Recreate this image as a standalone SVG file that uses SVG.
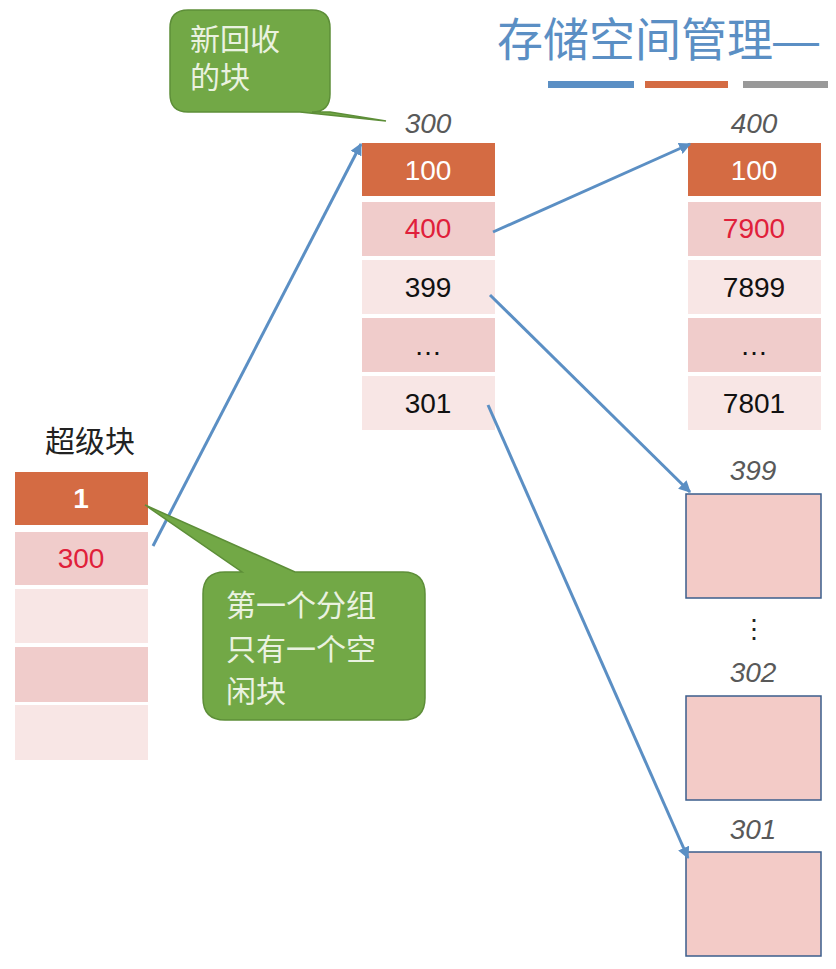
<svg xmlns="http://www.w3.org/2000/svg" width="836" height="969" viewBox="0 0 836 969">
<defs>
<marker id="ah" viewBox="0 0 10 10" refX="9" refY="5" markerWidth="4" markerHeight="4" orient="auto"><path d="M0,0L10,5L0,10z" fill="#5b8fc4"/></marker>
<style>
.t{font-family:"Liberation Sans","Noto Sans CJK SC",sans-serif;}
.n{font-size:28px;text-anchor:middle;}
.lab{font-size:28px;font-style:italic;fill:#595959;text-anchor:middle;}
.h{fill:#d46b43;}
.a{fill:#f0cccb;}
.b{fill:#f8e6e5;}
.box{fill:#f3cbc7;stroke:#3b5e8c;stroke-width:1.5;}
.cw{font-size:30px;fill:#eaf2e0;}
.con line{stroke:#5b8fc4;stroke-width:3;marker-end:url(#ah);}
</style>
</defs>
<rect width="836" height="969" fill="#fff"/>
<g id="title">
<text class="t" x="497" y="56" font-size="46" fill="#5b8fc4">存储空间管理—</text>
<rect x="548" y="81" width="86" height="7" fill="#5b8fc4"/>
<rect x="645" y="81" width="83" height="7" fill="#d46b43"/>
<rect x="743" y="81" width="85" height="7" fill="#999"/>
</g>
<g id="superblock" class="t">
<text x="90" y="452" font-size="30" text-anchor="middle" fill="#222">超级块</text>
<rect class="h" x="15" y="472" width="133" height="53"/>
<text class="n" x="81" y="508" fill="#fff" font-weight="bold">1</text>
<rect class="a" x="15" y="532" width="133" height="53"/>
<text class="n" x="81" y="568" fill="#e0203a">300</text>
<rect class="b" x="15" y="589" width="133" height="54"/>
<rect class="a" x="15" y="647" width="133" height="55"/>
<rect class="b" x="15" y="705" width="133" height="55"/>
</g>
<g id="block300" class="t">
<text class="lab" x="428" y="133">300</text>
<rect class="h" x="362" y="143" width="133" height="53"/>
<text class="n" x="428" y="180" fill="#fff">100</text>
<rect class="a" x="362" y="202" width="133" height="54"/>
<text class="n" x="428" y="238" fill="#e0203a">400</text>
<rect class="b" x="362" y="260" width="133" height="54"/>
<text class="n" x="428" y="297" fill="#111">399</text>
<rect class="a" x="362" y="318" width="133" height="54"/>
<text class="n" x="428" y="355" fill="#111">…</text>
<rect class="b" x="362" y="376" width="133" height="54"/>
<text class="n" x="428" y="413" fill="#111">301</text>
</g>
<g id="block400" class="t">
<text class="lab" x="754" y="133">400</text>
<rect class="h" x="688" y="143" width="133" height="53"/>
<text class="n" x="754" y="180" fill="#fff">100</text>
<rect class="a" x="688" y="202" width="133" height="54"/>
<text class="n" x="754" y="238" fill="#e0203a">7900</text>
<rect class="b" x="688" y="260" width="133" height="54"/>
<text class="n" x="754" y="297" fill="#111">7899</text>
<rect class="a" x="688" y="318" width="133" height="54"/>
<text class="n" x="754" y="355" fill="#111">…</text>
<rect class="b" x="688" y="376" width="133" height="54"/>
<text class="n" x="754" y="413" fill="#111">7801</text>
</g>
<g id="block399" class="t"><text class="lab" x="753" y="480">399</text><rect class="box" x="686" y="494" width="135" height="104"/></g>
<text class="t" x="754" y="638" font-size="26" text-anchor="middle" fill="#222">⋮</text>
<g id="block302" class="t"><text class="lab" x="753" y="682">302</text><rect class="box" x="686" y="696" width="135" height="104"/></g>
<g id="block301" class="t"><text class="lab" x="753" y="839">301</text><rect class="box" x="686" y="852" width="135" height="104"/></g>
<g class="con">
<line x1="153" y1="546" x2="361" y2="144"/>
<line x1="493" y1="232" x2="690" y2="144"/>
<line x1="490" y1="295" x2="690" y2="492"/>
<line x1="488" y1="405" x2="688" y2="858"/>
</g>
<g id="callout1" class="t">
<path d="M188,10H312Q330,10 330,28V94Q330,112 312,112H330L386,121L300,112H188Q170,112 170,94V28Q170,10 188,10Z" fill="#72a846" stroke="#5d8e38" stroke-width="1.5"/>
<text class="cw" x="190" y="50">新回收</text>
<text class="cw" x="190" y="88">的块</text>
</g>
<g id="callout2" class="t">
<path d="M225,572H242L145,505L295,572H403Q425,572 425,594V698Q425,720 403,720H225Q203,720 203,698V594Q203,572 225,572Z" fill="#72a846" stroke="#5d8e38" stroke-width="1.5"/>
<text class="cw" x="226" y="616">第一个分组</text>
<text class="cw" x="226" y="660">只有一个空</text>
<text class="cw" x="226" y="702">闲块</text>
</g>
</svg>
